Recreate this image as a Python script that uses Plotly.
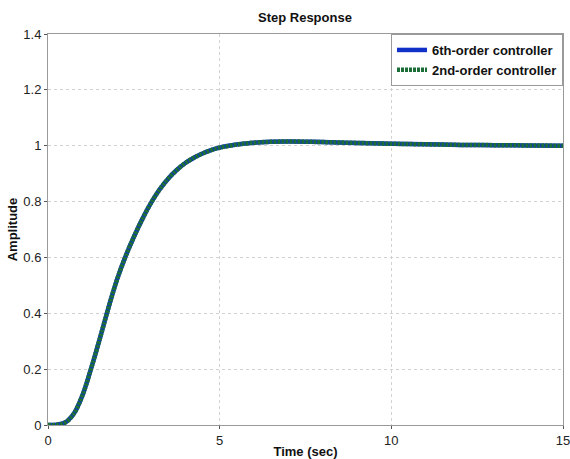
import plotly.graph_objects as go

t = [0, 0.25, 0.5, 0.75, 1.0, 1.25, 1.5, 1.75, 2.0, 2.25, 2.5, 2.75, 3.0, 3.25, 3.5,
     3.75, 4.0, 4.25, 4.5, 4.75, 5.0, 5.5, 6.0, 6.5, 7.0, 7.5, 8.0, 9.0, 10.0, 11.0, 12.0, 13.0, 14.0, 15.0]
y6 = [0, 0.001, 0.009, 0.04, 0.105, 0.20, 0.305, 0.415, 0.517, 0.601, 0.673, 0.738, 0.795, 0.843, 0.882,
      0.913, 0.938, 0.957, 0.972, 0.984, 0.993, 1.004, 1.011, 1.014, 1.015, 1.0145, 1.013, 1.010, 1.007, 1.005, 1.003, 1.002, 1.001, 1.0]
y2 = [0, 0.001, 0.009, 0.04, 0.105, 0.20, 0.305, 0.415, 0.517, 0.601, 0.673, 0.738, 0.795, 0.843, 0.882,
      0.913, 0.938, 0.957, 0.972, 0.984, 0.993, 1.004, 1.011, 1.014, 1.015, 1.0145, 1.013, 1.010, 1.007, 1.005, 1.003, 1.002, 1.001, 1.0]

x_ticks = [0, 5, 10, 15]
y_ticks = [0, 0.2, 0.4, 0.6, 0.8, 1, 1.2, 1.4]
y_labels = ["0", "0.2", "0.4", "0.6", "0.8", "1", "1.2", "1.4"]

fig = go.Figure()
fig.add_trace(go.Scatter(x=t, y=y6, mode="lines", name="6th-order controller",
                         line=dict(color="#1030c8", width=4.5, shape="spline", smoothing=1)))
fig.add_trace(go.Scatter(x=t, y=y2, mode="lines", name="2nd-order controller",
                         line=dict(color="#1b6e38", width=4.5, dash="3px,1px", shape="spline", smoothing=1)))

axis_common = dict(showline=True, linecolor="#9a9a9a", linewidth=1, mirror=True,
                   showgrid=True, gridcolor="#d2d2d2", griddash="dot", gridwidth=1,
                   zeroline=False, ticks="outside", ticklen=3, tickcolor="#555555",
                   automargin=False, ticklabeloverflow="allow",
                   tickfont=dict(family="Arial", size=13, color="#222222"))

fig.update_layout(
    width=570, height=459,
    margin=dict(l=48, r=7, t=34, b=34),
    paper_bgcolor="white", plot_bgcolor="white",
    title=dict(text="<b>Step Response</b>", x=0.535, xanchor="center", y=0.961, yanchor="middle",
               font=dict(family="Arial", size=13, color="#111111")),
    xaxis=dict(range=[0, 15], tickvals=x_ticks,
               title=dict(text="<b>Time (sec)</b>", font=dict(family="Arial", size=13, color="#111111"), standoff=0),
               **axis_common),
    yaxis=dict(range=[0, 1.4], tickvals=y_ticks, ticktext=y_labels,
               title=dict(text="<b>Amplitude</b>", font=dict(family="Arial", size=13, color="#111111"), standoff=2),
               **axis_common),
    legend=dict(x=1, y=1, xanchor="right", yanchor="top", bgcolor="white",
                bordercolor="#999999", borderwidth=1,
                font=dict(family="Arial", size=13, color="#111111", weight="bold"),
                tracegroupgap=0, itemwidth=30),
    showlegend=True,
)

fig.write_html("out.html")
